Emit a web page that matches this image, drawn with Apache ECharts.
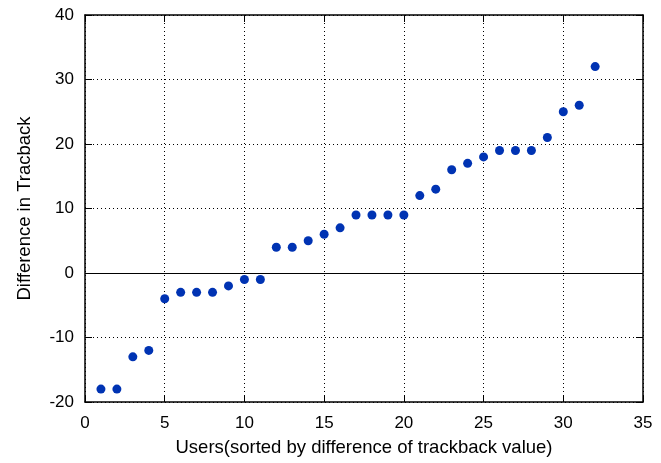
<!DOCTYPE html>
<html><head><meta charset="utf-8">
<script src="https://cdn.jsdelivr.net/npm/echarts@6/dist/echarts.min.js"></script>
<style>html,body{margin:0;padding:0;background:#fff}#c{width:661px;height:463px}</style>
</head><body><div id="c"></div>
<script>
const users = [1,2,3,4,5,6,7,8,9,10,11,12,13,14,15,16,17,18,19,20,21,22,23,24,25,26,27,28,29,30,31,32];
const diffs = [-18,-18,-13,-12,-4,-3,-3,-3,-2,-1,-1,4,4,5,6,7,9,9,9,9,12,13,16,17,18,19,19,19,21,25,26,32];
const xTicks = [0,35,5];
const yTicks = [-20,40,10];
const font = 'Liberation Sans, Arial, Helvetica, sans-serif';
const chart = echarts.init(document.getElementById('c'));
const axLine = {show:true, onZero:false, lineStyle:{color:'#000', width:1.5}};
const split = {show:true, lineStyle:{color:'#000', type:[1,3], width:1}};
const tick = {inside:true, length:7, lineStyle:{color:'#000', width:1}};
chart.setOption({
  animation:false,
  grid:{left:85, right:18, top:15, bottom:61},
  xAxis:[{type:'value', min:xTicks[0], max:xTicks[1], interval:xTicks[2],
    name:'Users(sorted by difference of trackback value)', nameLocation:'middle', nameGap:36,
    nameTextStyle:{fontFamily:font, fontSize:18.5, color:'#000'},
    axisLine:axLine, axisTick:tick,
    axisLabel:{fontFamily:font, fontSize:17, color:'#000', margin:13},
    splitLine:split},
   {type:'value', position:'top', min:xTicks[0], max:xTicks[1], interval:xTicks[2],
    axisLine:axLine, axisTick:tick,
    axisLabel:{show:false}, splitLine:{show:false}}],
  yAxis:[{type:'value', min:yTicks[0], max:yTicks[1], interval:yTicks[2],
    name:'Difference in Tracback', nameLocation:'middle', nameGap:51,
    nameTextStyle:{fontFamily:font, fontSize:18.5, color:'#000'},
    axisLine:axLine, axisTick:tick,
    axisLabel:{fontFamily:font, fontSize:17, color:'#000', margin:11},
    splitLine:split},
   {type:'value', position:'right', min:yTicks[0], max:yTicks[1], interval:yTicks[2],
    axisLine:axLine, axisTick:tick,
    axisLabel:{show:false}, splitLine:{show:false}}],
  series:[{type:'scatter', symbolSize:9, itemStyle:{color:'#0033b3', opacity:1},
    data: users.map((u,i)=>[u, diffs[i]]),
    markLine:{silent:true, symbol:'none', label:{show:false},
      lineStyle:{color:'#000', type:'solid', width:1, opacity:1}, data:[{yAxis:0}]}}]
});
</script></body></html>
